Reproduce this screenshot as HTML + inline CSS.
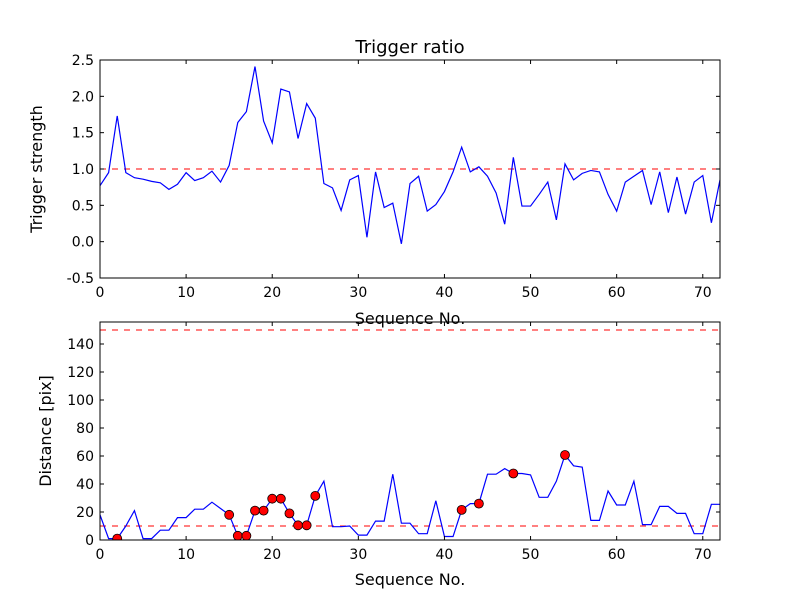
<!DOCTYPE html>
<html><head><meta charset="utf-8"><style>
html,body{margin:0;padding:0;background:#fff;}
svg{display:block;font-family:"DejaVu Sans","Liberation Sans",sans-serif;}
</style></head><body>
<svg id="chart" width="800" height="600" xmlns="http://www.w3.org/2000/svg"></svg>
<script>
const seqTop = [0.77,0.95,1.73,0.95,0.88,0.86,0.83,0.81,0.72,0.79,0.95,0.84,0.88,0.97,0.82,1.05,1.64,1.79,2.41,1.66,1.36,2.10,2.06,1.42,1.90,1.70,0.80,0.74,0.43,0.85,0.91,0.06,0.96,0.47,0.53,-0.03,0.80,0.90,0.42,0.51,0.69,0.96,1.30,0.96,1.03,0.90,0.67,0.24,1.16,0.49,0.49,0.65,0.82,0.30,1.07,0.85,0.94,0.98,0.96,0.65,0.42,0.82,0.90,0.98,0.51,0.96,0.40,0.89,0.38,0.82,0.91,0.26,0.85];
const seqBot = [18,1,1,10,21,1,1,7,7,16,16,22,22,27,22.5,18,3,3,21,21,29.5,29.5,19,10.5,10.5,31.5,42,9.5,9.5,10,3.5,3.5,13.5,13.5,47,12,12,4.5,4.5,28,2.5,2.5,21.5,26,26,47,47,51,47.5,47.5,46.5,30.5,30.5,42,60.7,53,52,14,14,35,25,25,42,11,11,24,24,19,19,4.5,4.5,25.5,25.5];
const markerIdx = [2,15,16,17,18,19,20,21,22,23,24,25,42,44,48,54];
const topThreshold = [1.0];
const botThresholds = [10,150];
const xTicks = [0,10,20,30,40,50,60,70];
const topYTicks = [-0.5,0.0,0.5,1.0,1.5,2.0,2.5];
const botYTicks = [0,20,40,60,80,100,120,140];

const NS="http://www.w3.org/2000/svg";
const svg=document.getElementById('chart');
function mk(tag,attrs,parent){const e=document.createElementNS(NS,tag);for(const k in attrs)e.setAttribute(k,attrs[k]);(parent||svg).appendChild(e);return e;}
const L=100,R=720;
const xS=v=>L+(v-0)/72*(R-L);
const topY=v=>60+(2.5-v)/3.0*218;
const botY=v=>540-v*1.4;

function axes(name,top,bot,yS,yTicks,fmt){
  const g=mk('g',{});
  
  
  xTicks.forEach(t=>{
    const x=xS(t);
    mk('line',{x1:x,x2:x,y1:bot,y2:bot-4,stroke:'#000'},g);
    mk('line',{x1:x,x2:x,y1:top,y2:top+4,stroke:'#000'},g);
    const tx=mk('text',{x:x,y:bot+19,'text-anchor':'middle','font-size':'14'},g);
    tx.textContent=t;
    
    
  });
  yTicks.forEach(t=>{
    const y=yS(t);
    mk('line',{x1:L,x2:L+4,y1:y,y2:y,stroke:'#000'},g);
    mk('line',{x1:R,x2:R-4,y1:y,y2:y,stroke:'#000'},g);
    const tx=mk('text',{x:L-6,y:y+5,'text-anchor':'end','font-size':'14'},g);
    tx.textContent=fmt(t);
    
    
  });
  return g;
}
function frame(top,bot,name){
  const r=mk('rect',{x:L,y:top,width:R-L,height:bot-top,fill:'none',stroke:'#000','stroke-width':1});
  
  
}

// top plot
topThreshold.forEach(v=>{const l=mk('line',{x1:L,x2:R,y1:topY(v),y2:topY(v),stroke:'#f00','stroke-dasharray':'6,6','stroke-width':1});
});
const p1=mk('polyline',{points:seqTop.map((v,i)=>xS(i)+','+topY(v)).join(' '),fill:'none',stroke:'#00f','stroke-width':1.2});


frame(60,278,'top-plot-frame');
axes('top-axes',60,278,topY,topYTicks,t=>t.toFixed(1));

// bottom plot
const clipB=mk('clipPath',{id:'cb'});mk('rect',{x:L,y:322,width:R-L,height:218},clipB);
botThresholds.forEach(v=>{const l=mk('line',{x1:L,x2:R,y1:botY(v),y2:botY(v),stroke:'#f00','stroke-dasharray':'6,6','stroke-width':1});
});
const p2=mk('polyline',{points:seqBot.map((v,i)=>xS(i)+','+botY(v)).join(' '),fill:'none',stroke:'#00f','stroke-width':1.2,'clip-path':'url(#cb)'});


markerIdx.forEach(i=>{
  const c=mk('circle',{cx:xS(i),cy:botY(seqBot[i]),r:4.5,fill:'#f00',stroke:'#000','stroke-width':0.8,'clip-path':'url(#cb)'});
  
  
});
frame(322,540,'bottom-plot-frame');
axes('bottom-axes',322,540,botY,botYTicks,t=>String(t));

// labels
function label(txt,attrs,name){const t=mk('text',attrs);t.textContent=txt;}
label('Trigger ratio',{x:410,y:53,'text-anchor':'middle','font-size':'18'},'chart-title');
label('Sequence No.',{x:410,y:324,'text-anchor':'middle','font-size':'16'},'top-x-axis-title');
label('Sequence No.',{x:410,y:585,'text-anchor':'middle','font-size':'16'},'bottom-x-axis-title');
label('Trigger strength',{x:0,y:0,'text-anchor':'middle','font-size':'16',transform:'translate(42,169) rotate(-90)'},'top-y-axis-title');
label('Distance [pix]',{x:0,y:0,'text-anchor':'middle','font-size':'16',transform:'translate(51,431) rotate(-90)'},'bottom-y-axis-title');
</script>
</body></html>
